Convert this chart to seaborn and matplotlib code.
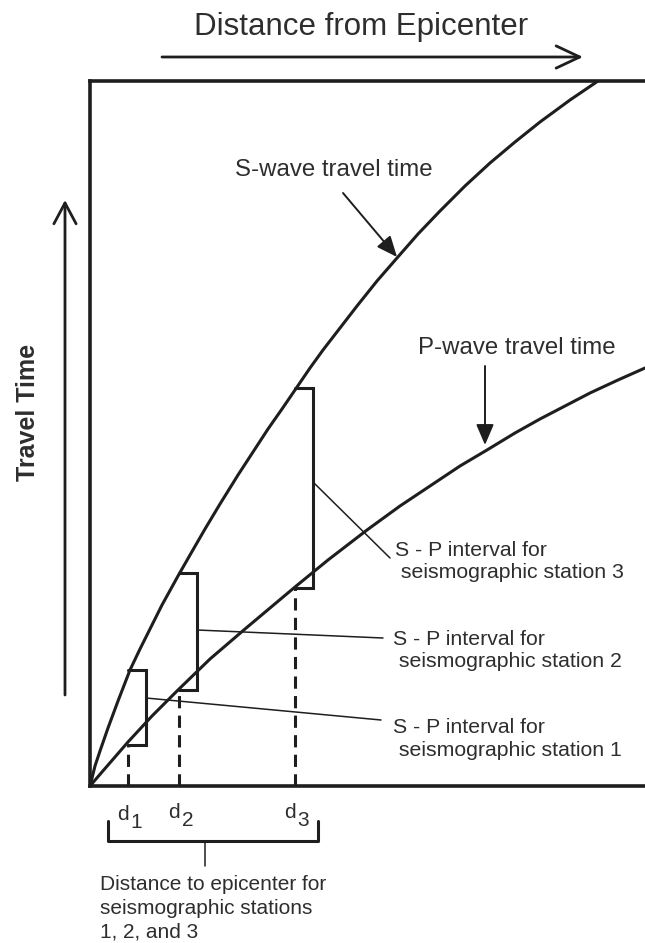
import pandas as pd
import seaborn as sns
from matplotlib import pyplot as plt

# Curve tempo di percorrenza (unità arbitrarie)
s_dist = [0, 5, 10, 18, 28, 40, 50, 58, 72, 88, 100, 115, 130, 148, 163, 178,
          192, 205, 220, 233, 250, 267, 287, 307, 328, 350, 375, 400, 425, 450,
          480, 508]
s_time = [0, 20, 35, 58, 85, 116, 137, 153, 181, 210, 231, 257, 282, 311, 334, 357,
          377, 396, 418, 436, 458, 480, 505, 528, 552, 575, 600, 623, 644, 664,
          686, 705]
p_dist = [0, 12, 25, 38, 62, 88, 120, 155, 180, 205, 238, 277, 310, 340, 370, 397,
          425, 450, 475, 500, 528, 555]
p_time = [0, 14, 29, 44, 70, 96, 127, 157, 178, 199, 226, 256, 280, 300, 320, 336,
          353, 367, 380, 393, 406, 418]

# Stazioni sismografiche: distanza, arrivo S, arrivo P
station_dist = [38, 89, 205]
station_s = [116, 213, 398]
station_p = [41, 96, 198]
station_names = ["1", "2", "3"]

x_max, y_max = 555, 705

df = pd.concat([
    pd.DataFrame({"distance": s_dist, "time": s_time, "wave": "S"}),
    pd.DataFrame({"distance": p_dist, "time": p_time, "wave": "P"}),
])

sns.set_theme(style="white")
plt.rcParams["font.family"] = ["Liberation Sans", "DejaVu Sans"]

INK = "#1e1e1e"
TXT = "#2e2e2e"

fig = plt.figure(figsize=(6.45, 9.43), dpi=100)
ax = fig.add_axes([90 / 645, (943 - 786) / 943, 555 / 645, 705 / 943])

sns.lineplot(data=df, x="distance", y="time", hue="wave", palette=[INK, INK],
             estimator=None, sort=False, legend=False, lw=2.2, ax=ax)

ax.set_xlim(0, x_max)
ax.set_ylim(0, y_max)
ax.set_xticks([])
ax.set_yticks([])
ax.set_xlabel("")
ax.set_ylabel("")
for side in ["top", "left", "bottom"]:
    ax.spines[side].set_color(INK)
    ax.spines[side].set_linewidth(2.6)
ax.spines["right"].set_visible(False)

# Intervalli S - P e linee tratteggiate
box_w = 18
label_pos = [(303, 47), (303, 135.5), (305, 224.5)]
leader_start = [88, 156, 304]
leader_end = [(291, 66), (293, 148), (300, 228)]
for i, d in enumerate(station_dist):
    s, p = station_s[i], station_p[i]
    ax.plot([d, d + box_w, d + box_w, d], [s, s, p, p], color=INK, lw=2.2,
            solid_joinstyle="miter")
    ax.plot([d, d], [0, p], color=INK, lw=2.2, ls=(0, (4, 2.4)))
    ax.plot([d + box_w, leader_end[i][0]], [leader_start[i], leader_end[i][1]],
            color=INK, lw=1.1)
    ax.text(label_pos[i][0], label_pos[i][1],
            "S - P interval for\n seismographic station " + station_names[i],
            ha="left", va="center", fontsize=15.3, color=TXT, linespacing=1.25)
    # etichette d1, d2, d3
    ax.annotate("d", xy=(d, 0), xytext=(-5, -28 + i), textcoords="offset pixels",
                ha="center", va="center", fontsize=15, color=TXT,
                annotation_clip=False)
    ax.annotate(station_names[i], xy=(d, 0), xytext=(8.5, -36 + i),
                textcoords="offset pixels", ha="center", va="center",
                fontsize=15, color=TXT, annotation_clip=False)

# Etichette delle curve
ax.text(243.5, 616, "S-wave travel time", ha="center", va="center",
        fontsize=17.3, color=TXT)
ax.annotate("", xy=(307, 529), xytext=(253, 593),
            arrowprops=dict(arrowstyle="-|>,head_length=0.7,head_width=0.3",
                            color=INK, lw=1.4, mutation_scale=18, shrinkA=0, shrinkB=0))
ax.text(426.5, 438, "P-wave travel time", ha="center", va="center",
        fontsize=17.3, color=TXT)
ax.annotate("", xy=(395, 341), xytext=(395, 420),
            arrowprops=dict(arrowstyle="-|>,head_length=0.7,head_width=0.3",
                            color=INK, lw=1.4, mutation_scale=18, shrinkA=0, shrinkB=0))

# Assi con frecce
ax.text(271.5, 759, "Distance from Epicenter", ha="center", va="center",
        fontsize=22.5, color=TXT, clip_on=False)
ax.annotate("", xy=(493, 729), xytext=(72, 729), annotation_clip=False,
            arrowprops=dict(arrowstyle="->,head_length=0.85,head_width=0.4",
                            color=INK, lw=2.0, mutation_scale=20, shrinkA=0, shrinkB=0))
ax.text(-62, 374, "Travel Time", ha="center", va="center", rotation=90,
        fontsize=18, fontweight="bold", color=TXT, clip_on=False)
ax.annotate("", xy=(-25, 586), xytext=(-25, 91), annotation_clip=False,
            arrowprops=dict(arrowstyle="->,head_length=0.75,head_width=0.4",
                            color=INK, lw=2.0, mutation_scale=20, shrinkA=0, shrinkB=0))

# Parentesi per le distanze
ax.plot([18, 18, 228, 228], [-35, -55, -55, -35], color=INK, lw=2.2, clip_on=False)
ax.plot([115, 115], [-55, -80], color=INK, lw=1.1, clip_on=False)
ax.text(10, -122, "Distance to epicenter for\nseismographic stations\n1, 2, and 3",
        ha="left", va="center", fontsize=15, color=TXT, linespacing=1.3,
        clip_on=False)

fig.savefig("out.png", dpi=100)
